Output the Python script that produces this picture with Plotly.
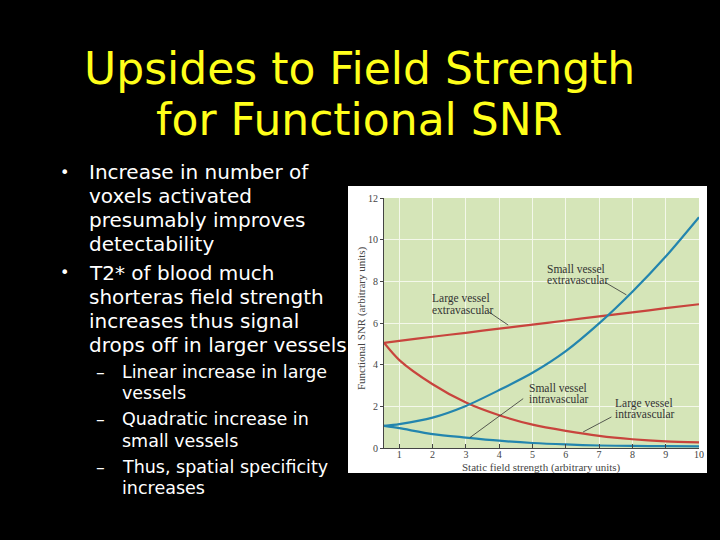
import plotly.graph_objects as go

# 数据
field = [0.54, 1, 2, 3, 4, 5, 6, 7, 8, 9, 10]
small_extra = [1.06, 1.15, 1.46, 2.02, 2.78, 3.61, 4.65, 5.98, 7.5, 9.19, 11.08]
large_extra = [5.05, 5.14, 5.34, 5.53, 5.73, 5.92, 6.12, 6.32, 6.51, 6.71, 6.9]
large_intra = [5.05, 4.22, 3.06, 2.18, 1.57, 1.12, 0.82, 0.58, 0.42, 0.32, 0.27]
small_intra = [1.06, 0.95, 0.67, 0.5, 0.35, 0.24, 0.17, 0.12, 0.1, 0.09, 0.08]

x_ticks = [1, 2, 3, 4, 5, 6, 7, 8, 9, 10]
y_ticks = [0, 2, 4, 6, 8, 10, 12]

title_lines = ['Upsides to Field Strength', 'for Functional SNR']
bullets = [
    ('•', ['Increase in number of', 'voxels activated', 'presumably improves', 'detectability']),
    ('•', ['T2* of blood much', 'shorteras field strength', 'increases thus signal',
           'drops off in larger vessels']),
]
sub_bullets = [
    ['Linear increase in large', 'vessels'],
    ['Quadratic increase in', 'small vessels'],
    ['Thus, spatial specificity', 'increases'],
]

RED = '#c8443d'
BLUE = '#2385ae'
SERIF = 'Liberation Serif'
SANS = 'DejaVu Sans'

# 绘图区像素位置
L, R, T, B = 384, 699, 198, 448


def px(x):
    return (x - L) / (R - L)


def py(y):
    return (B - y) / (B - T)


fig = go.Figure()

for yv, color in [(large_extra, RED), (large_intra, RED), (small_extra, BLUE), (small_intra, BLUE)]:
    fig.add_trace(go.Scatter(
        x=field, y=yv, mode='lines',
        line=dict(color=color, width=2.2, shape='spline', smoothing=0.8),
        showlegend=False, hoverinfo='skip'
    ))

annotations = []

# 标题
for txt, yc in zip(title_lines, [68.5, 119.5]):
    annotations.append(dict(
        x=px(359), y=py(yc), xref='paper', yref='paper', text=txt,
        xanchor='center', yanchor='middle', showarrow=False,
        font=dict(family=SANS, size=44, color='#ffff1a')
    ))

# 项目符号
bullet_y = [[172.5, 196, 220, 244], [272.5, 297, 321, 345]]
for (sym, lines), ys in zip(bullets, bullet_y):
    annotations.append(dict(
        x=px(64), y=py(ys[0]), xref='paper', yref='paper', text=sym,
        xanchor='center', yanchor='middle', showarrow=False,
        font=dict(family=SANS, size=16, color='white')
    ))
    for line, yc in zip(lines, ys):
        annotations.append(dict(
            x=px(87), y=py(yc), xref='paper', yref='paper', text=line,
            xanchor='left', yanchor='middle', showarrow=False,
            font=dict(family=SANS, size=20, color='white')
        ))

sub_y = [[372, 393], [419, 441], [467, 488]]
for lines, ys in zip(sub_bullets, sub_y):
    annotations.append(dict(
        x=px(100), y=py(ys[0]), xref='paper', yref='paper', text='–',
        xanchor='center', yanchor='middle', showarrow=False,
        font=dict(family=SANS, size=17.5, color='white')
    ))
    for line, yc in zip(lines, ys):
        annotations.append(dict(
            x=px(120), y=py(yc), xref='paper', yref='paper', text=line,
            xanchor='left', yanchor='middle', showarrow=False,
            font=dict(family=SANS, size=17.5, color='white')
        ))

# 曲线标签
curve_labels = [
    (5.37, [8.61, 8.07], ['Small vessel', 'extravascular']),
    (1.92, [7.17, 6.64], ['Large vessel', 'extravascular']),
    (4.82, [2.88, 2.37], ['Small vessel', 'intravascular']),
    (7.42, [2.13, 1.63], ['Large vessel', 'intravascular']),
]
for xl, ys, lines in curve_labels:
    for line, yc in zip(lines, ys):
        annotations.append(dict(
            x=xl, y=yc, xref='x', yref='y', text=line,
            xanchor='left', yanchor='middle', showarrow=False,
            font=dict(family=SERIF, size=11.5, color='#333333')
        ))

# 坐标轴标题
annotations.append(dict(
    x=0.5, y=py(467.5), xref='paper', yref='paper',
    text='Static field strength (arbitrary units)',
    xanchor='center', yanchor='middle', showarrow=False,
    font=dict(family=SERIF, size=11, color='#444444')
))
annotations.append(dict(
    x=px(361), y=py(318), xref='paper', yref='paper',
    text='Functional SNR (arbitrary units)', textangle=-90,
    xanchor='center', yanchor='middle', showarrow=False,
    font=dict(family=SERIF, size=11, color='#444444')
))

leaders = [
    (7.17, 7.96, 7.82, 7.35),
    (3.67, 6.55, 4.27, 5.9),
    (4.72, 2.37, 3.12, 0.5),
    (7.37, 1.49, 6.52, 0.77),
]
shapes = [
    # 白色图片底板
    dict(type='rect', xref='paper', yref='paper', layer='below',
         x0=px(348), x1=px(707), y0=py(473), y1=py(186),
         fillcolor='white', line=dict(width=0)),
    # 绿色绘图区
    dict(type='rect', xref='paper', yref='paper', layer='below',
         x0=0, x1=1, y0=0, y1=1,
         fillcolor='#d5e5b8', line=dict(width=0)),
]
for x0, y0, x1, y1 in leaders:
    shapes.append(dict(type='line', xref='x', yref='y', x0=x0, y0=y0, x1=x1, y1=y1,
                       line=dict(color='#333333', width=0.8)))

fig.update_layout(
    width=720, height=540, autosize=False,
    margin=dict(l=L, r=720 - R, t=T, b=540 - B),
    paper_bgcolor='black',
    plot_bgcolor='rgba(0,0,0,0)',
    showlegend=False,
    annotations=annotations,
    shapes=shapes,
)

fig.update_xaxes(
    range=[0.54, 10], tickvals=x_ticks, ticktext=[str(v) for v in x_ticks],
    showgrid=True, gridcolor='#f4f8ea', gridwidth=1, zeroline=False,
    showline=True, linecolor='#444444', linewidth=1,
    ticks='inside', ticklen=4, tickcolor='#444444', ticklabelstandoff=-3,
    tickfont=dict(family=SERIF, size=10, color='#444444')
)
fig.update_yaxes(
    range=[0, 12], tickvals=y_ticks, ticktext=[str(v) for v in y_ticks],
    showgrid=True, gridcolor='#f4f8ea', gridwidth=1, zeroline=False,
    showline=True, linecolor='#444444', linewidth=1,
    ticks='outside', ticklen=3, tickcolor='#444444',
    tickfont=dict(family=SERIF, size=10, color='#444444')
)

# 去掉页面默认边距，让图表贴满窗口
fig.write_html('out.html', config={'displayModeBar': False},
               post_script="document.body.style.margin='0px';")
